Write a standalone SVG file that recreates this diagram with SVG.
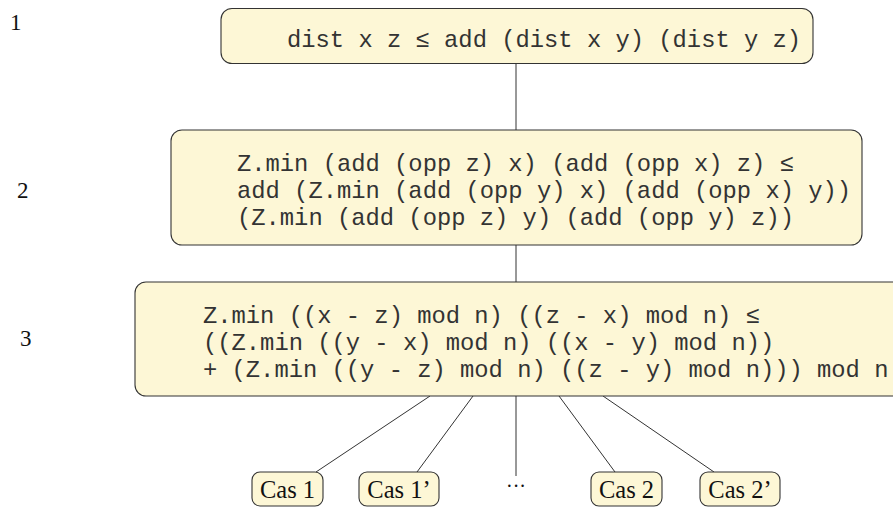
<svg xmlns="http://www.w3.org/2000/svg" width="893" height="510" viewBox="0 0 893 510">
<style>
.box{fill:#fdf7d6;stroke:#333;stroke-width:1.1}
.mono{font-family:"Liberation Mono","Courier New",monospace;font-size:23.8px;fill:#333}
.rm{font-family:"Liberation Serif","Times New Roman",serif;fill:#111}
.lbl{font-size:23px}
.cas{font-size:24.5px}
.edge{stroke:#333;stroke-width:1;fill:none}
</style>
<rect width="893" height="510" fill="#fff"/>
<g id="labels" class="rm lbl">
<text x="10" y="30">1</text>
<text x="17" y="198">2</text>
<text x="20" y="346">3</text>
</g>
<g id="connectors" class="edge">
<line x1="516" y1="63" x2="516" y2="130"/>
<line x1="516" y1="245" x2="516" y2="282"/>
<line x1="430" y1="396" x2="316" y2="472"/>
<line x1="473" y1="396" x2="417" y2="472"/>
<line x1="516" y1="396" x2="516" y2="476"/>
<line x1="559" y1="396" x2="615" y2="472"/>
<line x1="603" y1="396" x2="714" y2="472"/>
</g>
<g id="n1">
<rect class="box" x="221" y="8.5" width="592" height="55" rx="11"/>
<text class="mono" x="287" y="47">dist x z ≤ add (dist x y) (dist y z)</text>
</g>
<g id="n2">
<rect class="box" x="171" y="130" width="691" height="115" rx="11"/>
<text class="mono" x="237" y="171">Z.min (add (opp z) x) (add (opp x) z) ≤</text>
<text class="mono" x="237" y="198">add (Z.min (add (opp y) x) (add (opp x) y))</text>
<text class="mono" x="237" y="225">(Z.min (add (opp z) y) (add (opp y) z))</text>
</g>
<g id="n3">
<rect class="box" x="135" y="282" width="780" height="114" rx="11"/>
<text class="mono" x="203" y="323">Z.min ((x - z) mod n) ((z - x) mod n) ≤</text>
<text class="mono" x="203" y="350">((Z.min ((y - x) mod n) ((x - y) mod n))</text>
<text class="mono" x="203" y="377">+ (Z.min ((y - z) mod n) ((z - y) mod n))) mod n</text>
</g>
<g id="cas1">
<rect class="box" x="252" y="472" width="71" height="34" rx="8"/>
<text class="rm cas" x="287.5" y="498" text-anchor="middle">Cas 1</text>
</g>
<g id="cas1p">
<rect class="box" x="359" y="472" width="80" height="34" rx="8"/>
<text class="rm cas" x="399" y="498" text-anchor="middle">Cas 1’</text>
</g>
<g id="dots">
<text class="rm" x="516" y="493" text-anchor="middle" font-size="20">···</text>
</g>
<g id="cas2">
<rect class="box" x="591" y="472" width="71" height="34" rx="8"/>
<text class="rm cas" x="626.5" y="498" text-anchor="middle">Cas 2</text>
</g>
<g id="cas2p">
<rect class="box" x="700" y="472" width="80" height="34" rx="8"/>
<text class="rm cas" x="740" y="498" text-anchor="middle">Cas 2’</text>
</g>
</svg>
